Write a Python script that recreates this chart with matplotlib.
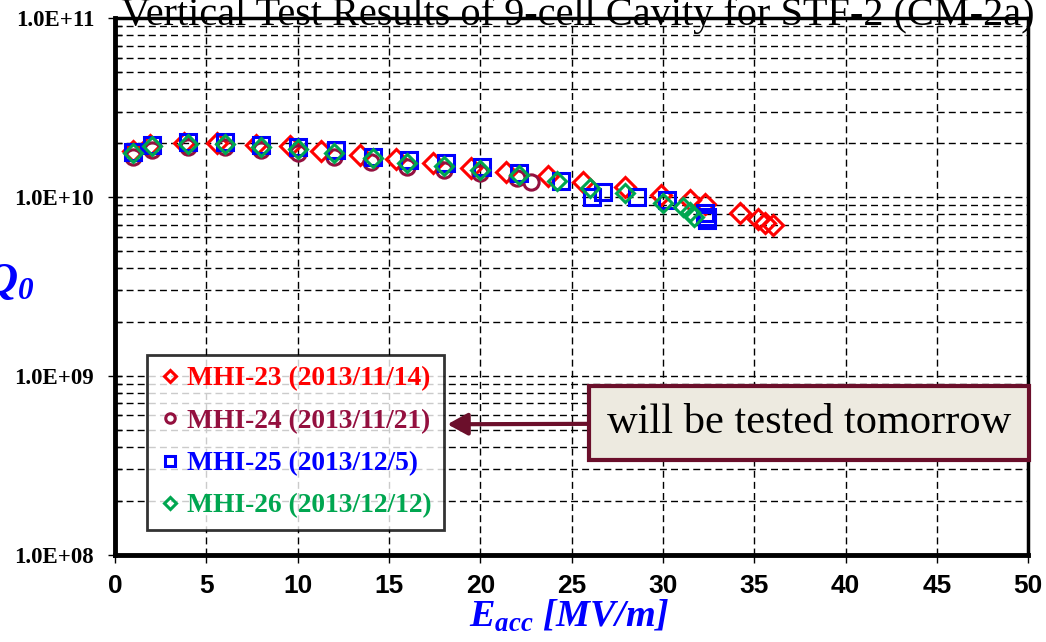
#!/usr/bin/env python3
"""Vertical test results (Q0 vs Eacc) for the STF-2 9-cell cavities."""

import matplotlib
matplotlib.use("Agg")
import matplotlib.pyplot as plt
from matplotlib.ticker import FixedLocator, LogLocator, NullFormatter

plt.rcParams["mathtext.fontset"] = "custom"
plt.rcParams["mathtext.it"] = "Liberation Serif:italic:bold"
plt.rcParams["mathtext.rm"] = "Liberation Serif:italic:bold"

SERIF = "Liberation Serif"

# ── data ──────────────────────────────────────────────────────────
labels = ["MHI-23 (2013/11/14)", "MHI-24 (2013/11/21)",
          "MHI-25 (2013/12/5)", "MHI-26 (2013/12/12)"]

e23 = [1.0, 1.9, 3.8, 5.6, 7.7, 9.6, 11.3, 13.4, 15.4, 17.4, 19.5, 21.4,
       23.7, 25.6, 27.9, 29.9, 31.5, 32.3, 34.2, 35.2, 35.6, 36.0]
q23 = [1.80e10, 1.95e10, 2.00e10, 1.99e10, 1.96e10, 1.92e10, 1.80e10, 1.71e10,
       1.62e10, 1.54e10, 1.45e10, 1.37e10, 1.31e10, 1.21e10, 1.13e10, 1.02e10,
       9.6e9, 9.1e9, 8.1e9, 7.5e9, 7.1e9, 7.0e9]

e24 = [1, 2, 4, 6, 8, 10, 12, 14, 16, 18, 20, 22, 22.8]
q24 = [1.67e10, 1.82e10, 1.90e10, 1.90e10, 1.82e10, 1.75e10, 1.67e10, 1.56e10,
       1.47e10, 1.41e10, 1.36e10, 1.27e10, 1.21e10]

e25 = [1, 2, 4, 6, 8, 10, 12.1, 14.1, 16.1, 18.1, 20.1, 22.1, 24.4, 26.1,
       26.7, 28.6, 30.2, 32.3, 32.4, 32.4]
q25 = [1.78e10, 1.95e10, 2.02e10, 2.02e10, 1.95e10, 1.90e10, 1.82e10, 1.67e10,
       1.60e10, 1.54e10, 1.47e10, 1.36e10, 1.22e10, 9.95e9, 1.06e10, 1.0e10,
       9.6e9, 8.1e9, 7.7e9, 7.4e9]

e26 = [1, 2, 4, 6, 8, 10, 12, 14.1, 16, 18, 20, 22.1, 24.2, 26.0, 27.9,
       30.0, 31.1, 31.5, 31.7]
q26 = [1.75e10, 1.92e10, 1.98e10, 1.98e10, 1.90e10, 1.85e10, 1.75e10, 1.64e10,
       1.54e10, 1.49e10, 1.41e10, 1.32e10, 1.22e10, 1.12e10, 1.05e10,
       9.3e9, 8.75e9, 8.2e9, 7.7e9]

x_ticks = [0, 5, 10, 15, 20, 25, 30, 35, 40, 45, 50]
y_ticks = [1e8, 1e9, 1e10, 1e11]
y_ticklabels = ["1.0E+08", "1.0E+09", "1.0E+10", "1.0E+11"]

# ── styles ─────────────────────────────────────────────────────────
C_RED = "#FF0000"
C_MAROON = "#94103F"
C_BLUE = "#0000FF"
C_GREEN = "#00A650"
C_ARROW = "#6B0F2B"

fig = plt.figure(figsize=(10.46, 6.42), dpi=100)
ax = fig.add_axes([0.110, 0.136, 0.873, 0.836])

ax.set_yscale("log")
ax.set_xlim(0, 50)
ax.set_ylim(1e8, 1e11)

kw = dict(ls="none", mfc="none", mew=2.2)
ax.plot(e23, q23, marker="D", ms=10.5, mec=C_RED, label=labels[0], **kw)
ax.plot(e24, q24, marker="o", ms=11, mec=C_MAROON, label=labels[1], **kw)
ax.plot(e25, q25, marker="s", ms=12, mec=C_BLUE, label=labels[2], **kw)
ax.plot(e26, q26, marker="D", ms=9.5, mec=C_GREEN, label=labels[3], **kw)

# ticks / grid
ax.xaxis.set_major_locator(FixedLocator(x_ticks))
ax.set_xticklabels([str(t) for t in x_ticks], family="Liberation Sans",
                   fontsize=19, fontweight="bold")
ax.yaxis.set_major_locator(FixedLocator(y_ticks))
ax.set_yticklabels(y_ticklabels, family=SERIF, fontsize=16.5, fontweight="bold")
ax.yaxis.set_minor_locator(LogLocator(base=10, subs=range(2, 10)))
ax.yaxis.set_minor_formatter(NullFormatter())
ax.tick_params(axis="x", which="major", direction="out", length=6, width=1,
               pad=8)
ax.tick_params(axis="y", which="major", direction="inout", length=10, width=1,
               pad=10)
ax.tick_params(axis="y", which="minor", direction="in", length=5, width=1)

grid_kw = dict(color="black", ls=(0, (5, 3)), lw=1.0)
ax.grid(True, axis="x", which="major", **grid_kw)
ax.grid(True, axis="y", which="both", **grid_kw)
ax.set_axisbelow(True)

for sp in ax.spines.values():
    sp.set_linewidth(2.5)
ax.spines["left"].set_linewidth(3.5)
ax.spines["bottom"].set_linewidth(3.5)

# axis labels
fig.text(0.544, 0.024, r"$E_{acc}$ [MV/m]", family=SERIF, fontsize=27.5,
         fontweight="bold", fontstyle="italic", color=C_BLUE,
         ha="center", va="baseline")
fig.text(-0.014, 0.560, r"$Q_0$", family=SERIF, fontsize=32,
         fontweight="bold", fontstyle="italic", color=C_BLUE,
         ha="left", va="center")

# title (cut off at the top of the slide)
fig.text(0.552, 0.961, "Vertical Test Results of 9-cell Cavity for STF-2 (CM-2a)",
         family=SERIF, fontsize=29, ha="center", va="baseline")

# legend
leg = ax.legend(loc="lower left", bbox_to_anchor=(0.035, 0.046),
                borderaxespad=0, frameon=True, fancybox=False,
                markerscale=0.62, handlelength=0.8, handletextpad=0.25,
                labelspacing=0.62, borderpad=0.42,
                prop=dict(family=SERIF, size=19.8, weight="bold"))
leg.get_frame().set_edgecolor("black")
leg.get_frame().set_linewidth(2.0)
for txt, col in zip(leg.get_texts(), [C_RED, C_MAROON, C_BLUE, C_GREEN]):
    txt.set_color(col)

# callout
ax.annotate("will be tested tomorrow",
            xy=(0.364, 0.243), xycoords="axes fraction",
            xytext=(0.7596, 0.245), textcoords="axes fraction",
            family=SERIF, fontsize=30.5, ha="center", va="center",
            bbox=dict(boxstyle="square,pad=0.42", fc="#EDEAE0", ec=C_ARROW,
                      lw=3),
            arrowprops=dict(arrowstyle="-|>,head_length=0.4,head_width=0.22",
                            color=C_ARROW, lw=3, shrinkA=0, shrinkB=0),
            zorder=5)

fig.savefig("out.png", dpi=100)
